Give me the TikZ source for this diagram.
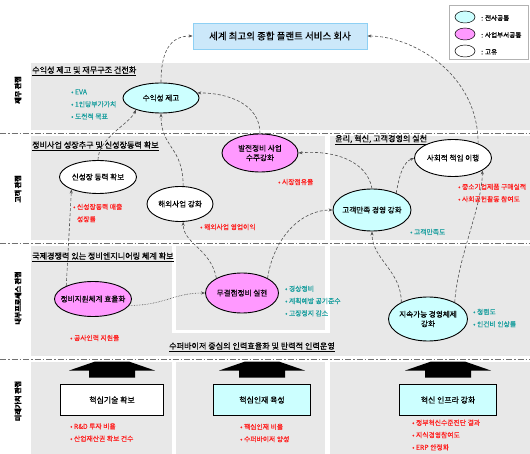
\documentclass[tikz,border=0pt]{standalone}
\usepackage{fontspec}
\setmainfont{Noto Sans CJK KR}[FakeBold=0.35]
\usetikzlibrary{positioning,arrows.meta,shapes.geometric}
\definecolor{panelgrey}{HTML}{E8E8E8}
\definecolor{allcolor}{HTML}{CCFFFF}
\definecolor{unitcolor}{HTML}{FF99FF}
\definecolor{visionfill}{HTML}{CCE8FA}
\definecolor{visionline}{HTML}{8ED0F4}
\definecolor{kpired}{HTML}{FF2020}
\definecolor{kpiteal}{HTML}{189E9E}
\definecolor{sepline}{HTML}{707070}
\definecolor{linkcolor}{HTML}{505050}

\begin{document}
\begin{tikzpicture}[
    x=1pt,y=-1pt,
    >={Stealth[length=4pt,width=3pt]},
    every node/.style={font=\fontsize{7.6}{9.5}\selectfont,inner sep=1pt},
    goal/.style={
        ellipse,
        draw=black,
        line width=0.9pt,
        fill=#1,
        align=center,
        inner xsep=-6pt,
        inner ysep=-2pt,
    },
    initiative/.style={
        rectangle,
        draw=black,
        line width=0.9pt,
        fill=#1,
        minimum height=31pt,
        font=\fontsize{7.9}{9.5}\selectfont,
    },
    kpi/.style={text=#1,anchor=west,align=left,font=\fontsize{6.8}{12.3}\selectfont},
    paneltitle/.style={anchor=west,font=\fontsize{8.1}{9.5}\selectfont},
    persp/.style={rotate=90,font=\bfseries\fontsize{7}{8}\selectfont},
    link/.style={->,densely dashed,line width=0.6pt,draw=linkcolor},
    separator/.style={draw=sepline,line width=0.8pt,dash pattern=on 6pt off 2pt on 1.5pt off 2pt},
    gap/.style={fill=white,draw=none},
    uparrow/.style={fill=black,draw=none},
]
\useasboundingbox (0,0) rectangle (530,454);

% === Panels ===
\fill[panelgrey] (31,63) rectangle (530,454);
\fill[gap] (31,130) rectangle (530,136);
\fill[gap] (31,240) rectangle (530,246);
\fill[gap] (31,356) rectangle (530,362);
\fill[gap] (325,133) rectangle (330,333);
\fill[gap] (172,243) rectangle (176,333);
\fill[gap] (172,330) rectangle (330,333);
\fill[gap] (172,359) rectangle (176,454);
\fill[gap] (325,359) rectangle (330,454);

\draw[separator] (0,133) -- (530,133);
\draw[separator] (0,243) -- (530,243);
\draw[separator] (0,359) -- (530,359);

% === Vision ===
\node[draw=visionline,fill=visionfill,line width=0.8pt,minimum width=174pt,minimum height=26pt,
      font=\fontsize{9.5}{10}\selectfont] (vision) at (280,36) {세계 최고의 종합 플랜트 서비스 회사};

% === Legend ===
\node[draw=gray!60,fill=white,line width=0.8pt,minimum width=79pt,minimum height=54pt,anchor=north west] (legbox) at (449,5) {};
\node[goal=allcolor,line width=0.5pt,minimum width=20pt,minimum height=12pt] (legall) at (465,17) {};
\node[goal=unitcolor,line width=0.5pt,minimum width=20pt,minimum height=12pt] (legunit) at (465,34) {};
\node[goal=white,line width=0.5pt,minimum width=20pt,minimum height=12pt] (legown) at (465,51) {};
\node[anchor=west,font=\fontsize{6.6}{8}\selectfont] (legalltext) at (480,18) {: 전사공통};
\node[anchor=west,font=\fontsize{6.6}{8}\selectfont] (legunittext) at (480,35) {: 사업부서공통};
\node[anchor=west,font=\fontsize{6.6}{8}\selectfont] (legowntext) at (480,52) {: 고유};

% === Perspectives ===
\node[persp] (finance) at (18,90) {재무 관점};
\node[persp] (customer) at (18,189) {고객 관점};
\node[persp] (process) at (18,298) {내부프로세스 관점};
\node[persp] (future) at (18,401) {미래가치 관점};

% === Panel titles ===
\node[paneltitle] (fintitle) at (31,71) {\underline{수익성 제고 및 재무구조 건전화}};
\node[paneltitle] (growtitle) at (31,146) {\underline{정비사업 성장추구 및 신성장동력 확보}};
\node[paneltitle] (ethictitle) at (334,140) {\underline{윤리, 혁신, 고객경영의 실천}};
\node[paneltitle] (engtitle) at (31,257) {\underline{국제경쟁력 있는 정비엔지니어링 체계 확보}};
\node[paneltitle] (hrtitle) at (168,347) {\underline{수퍼바이저 중심의 인력효율화 및 탄력적 인력운영}};

% === Goals ===
\node[goal=allcolor,minimum width=76pt,minimum height=30pt] (profit) at (161,98) {수익성 제고};
\node[goal=white,minimum width=77pt,minimum height=33pt] (growth) at (98,177) {신성장 동력 확보};
\node[goal=white,minimum width=66pt,minimum height=35pt] (overseas) at (180,204) {해외사업 강화};
\node[goal=unitcolor,minimum width=76pt,minimum height=38pt] (power) at (260,153) {발전정비 사업\\수주강화};
\node[goal=allcolor,minimum width=78pt,minimum height=42pt] (custsat) at (372,210) {고객만족 경영 강화};
\node[goal=white,minimum width=77pt,minimum height=37pt] (social) at (453,158) {사회적 책임 이행};
\node[goal=unitcolor,minimum width=77pt,minimum height=35pt] (support) at (93,299) {정비지원체계 효율화};
\node[goal=unitcolor,minimum width=73pt,minimum height=40pt] (zerodef) at (242,293) {무결점정비 실현};
\node[goal=allcolor,minimum width=79pt,minimum height=44pt] (sustain) at (428,319) {지속가능 경영체제\\강화};

% === Initiatives ===
\node[initiative=white,minimum width=103pt] (tech) at (112,400) {핵심기술 확보};
\node[initiative=allcolor,minimum width=97pt] (talent) at (262,400) {핵심인재 육성};
\node[initiative=allcolor,minimum width=97pt] (infra) at (448,400) {혁신 인프라 강화};

\foreach \b in {tech,talent,infra}
    \fill[uparrow,shift={(\b.north)}] (-17,-22.5) -- (17,-22.5) -- (43,-13.5) -- (23,-13.5)
        -- (23,-6.5) -- (-23,-6.5) -- (-23,-13.5) -- (-43,-13.5) -- cycle;

% === KPIs ===
\node[kpi=kpiteal] (profitkpi) at (70,104.5) {• EVA\\• 1인당부가가치\\• 도전적 목표};
\node[kpi=kpired] (growthkpi) at (72,213) {• 신성장동력 매출\\\phantom{• }성장률};
\node[kpi=kpired] (overseaskpi) at (199,227) {• 해외사업 영업이익};
\node[kpi=kpired] (powerkpi) at (277,182) {• 시장점유율};
\node[kpi=kpiteal] (custkpi) at (409,232) {• 고객만족도};
\node[kpi=kpired] (socialkpi) at (457,193) {• 중소기업제품 구매실적\\• 사회공헌활동 참여도};
\node[kpi=kpired] (supportkpi) at (69,338) {• 공사인력 지원율};
\node[kpi=kpiteal] (zerodefkpi) at (284,301) {• 경상정비\\• 계획예방 공기준수\\• 고장정지 감소};
\node[kpi=kpiteal] (sustainkpi) at (472,318) {• 청렴도\\• 인건비 인상률};
\node[kpi=kpired] (techkpi) at (69,432.5) {• R\&D 투자 비율\\• 산업재산권 확보 건수};
\node[kpi=kpired] (talentkpi) at (239,433) {• 핵심인재 비율\\• 수퍼바이저 양성};
\node[kpi=kpired] (infrakpi) at (411,435) {• 정부혁신수준진단 결과\\• 지식경영참여도\\• ERP 안정화};

% === Links ===
\draw[link] (profit.north) .. controls +(0,-32) and +(-22,0) .. (vision.west);
\draw[link] (social.30) .. controls +(0,-70) and +(45,0) .. (vision.east);
\draw[link] (growth.north) .. controls +(0,-22) and +(-6,14) .. (profit.205);
\draw[link] (overseas.80) .. controls +(0,-40) and +(0,35) .. (profit.south);
\draw[link] (power.north) .. controls +(0,-30) and +(30,0) .. (profit.8);
\draw[link] (custsat.north) .. controls +(-5,-28) and +(35,-3) .. (power.east);
\draw[link] (custsat.35) .. controls +(4,-22) and +(-10,4) .. (social.west);
\draw[link] (support.154) -- (growth.205);
\draw[link] (zerodef.150) .. controls +(-6,-30) and +(0,22) .. (overseas.280);
\draw[link] (zerodef.30) .. controls +(6,-40) and +(-32,0) .. (custsat.west);
\draw[link,densely dotted] (support.350) .. controls +(35,0) and +(-32,0) .. (zerodef.west);
\draw[link] (sustain.148) .. controls +(0,-32) and +(0,28) .. (custsat.south);
\draw[link] (sustain.32) .. controls +(3,-45) and +(0,35) .. (social.337);

\end{tikzpicture}
\end{document}
